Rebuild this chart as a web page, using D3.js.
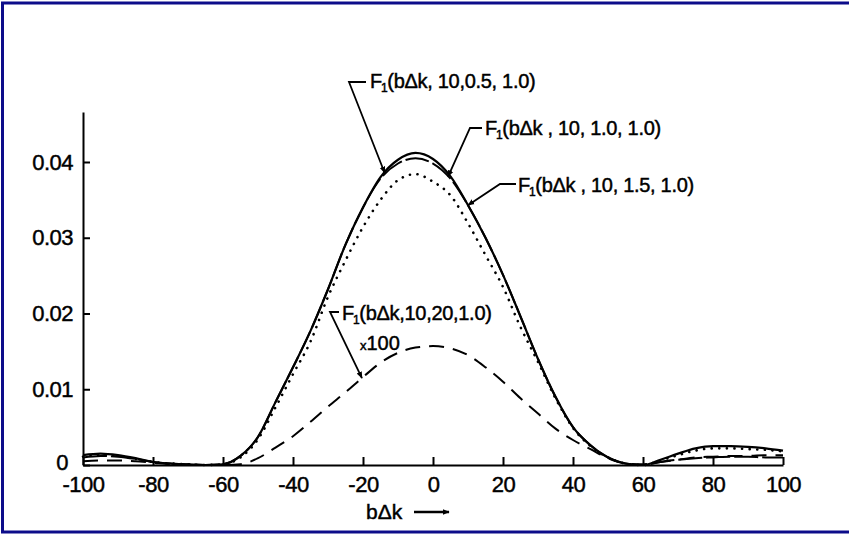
<!DOCTYPE html>
<html lang="en">
<head>
  <meta charset="UTF-8">
  <title>F1(bΔk) curves</title>
  <script src="https://d3js.org/d3.v7.min.js"></script>
  <style>
    body { margin: 0; background: #fff; }
    svg { display: block; font-family: "Liberation Sans", Arial, sans-serif; }
    svg text { stroke: #000; stroke-width: 0.45px; }
  </style>
</head>
<body>
  <svg id="chart" width="849" height="534"></svg>
  <script>
// b·Δk sample positions
const bdk = [-100, -95, -90, -85, -80, -75, -70, -65, -60, -55, -50, -45, -40, -35, -30, -25, -20, -15, -10, -5,
  0, 5, 10, 15, 20, 25, 30, 35, 40, 45, 50, 55, 60, 65, 70, 75, 80, 85, 90, 95, 100];

// F1(bΔk, 10, 0.5, 1.0)
const f05 = [0.0013, 0.0015, 0.0013, 0.0009, 0.0004, 0.0002, 0.0001, 0.0000, 0.0001, 0.0012, 0.0037, 0.0083, 0.0129, 0.0177, 0.0232, 0.0291, 0.0340, 0.0380, 0.0403, 0.0412,
  0.0404, 0.0381, 0.0343, 0.0300, 0.0251, 0.0196, 0.0140, 0.0090, 0.0050, 0.0026, 0.0010, 0.0002, 0.0000, 0.0007, 0.0015, 0.0022, 0.0025, 0.0025, 0.0024, 0.0022, 0.0019];

// F1(bΔk, 10, 1.0, 1.0)
const f10 = [0.0010, 0.0012, 0.0011, 0.0008, 0.0004, 0.0002, 0.0001, 0.0000, 0.0001, 0.0012, 0.0037, 0.0083, 0.0129, 0.0177, 0.0232, 0.0291, 0.0340, 0.0378, 0.0398, 0.0405,
  0.0398, 0.0378, 0.0343, 0.0300, 0.0251, 0.0196, 0.0140, 0.0090, 0.0050, 0.0026, 0.0010, 0.0002, 0.0000, 0.0004, 0.0007, 0.0009, 0.0010, 0.0011, 0.0011, 0.0010, 0.0010];

// F1(bΔk, 10, 1.5, 1.0)
const f15 = [0.0011, 0.0013, 0.0012, 0.0008, 0.0004, 0.0002, 0.0001, 0.0000, 0.0001, 0.0010, 0.0034, 0.0076, 0.0120, 0.0163, 0.0222, 0.0270, 0.0314, 0.0350, 0.0376, 0.0384,
  0.0374, 0.0356, 0.0319, 0.0277, 0.0235, 0.0182, 0.0136, 0.0088, 0.0049, 0.0025, 0.0010, 0.0002, 0.0000, 0.0006, 0.0013, 0.0019, 0.0022, 0.0022, 0.0021, 0.0020, 0.0018];

// F1(bΔk, 10, 20, 1.0) x100
const f20 = [0.0005, 0.0006, 0.0006, 0.0005, 0.0003, 0.0001, 0.0000, 0.0000, 0.0000, 0.0001, 0.0009, 0.0023, 0.0038, 0.0057, 0.0077, 0.0096, 0.0116, 0.0135, 0.0148, 0.0155,
  0.0157, 0.0154, 0.0145, 0.0129, 0.0110, 0.0088, 0.0068, 0.0048, 0.0033, 0.0021, 0.0009, 0.0002, 0.0001, 0.0004, 0.0007, 0.0010, 0.0011, 0.0012, 0.0012, 0.0013, 0.0013];

const xTicks = [-100, -80, -60, -40, -20, 0, 20, 40, 60, 80, 100];
const yTicks = [0, 0.01, 0.02, 0.03, 0.04];
const yLabelText = { 0: "0", 0.01: "0.01", 0.02: "0.02", 0.03: "0.03", 0.04: "0.04" };

const svg = d3.select("#chart");

// scanned-page frame
svg.append("path")
  .attr("d", "M849,3 H2.5 V532 H849")
  .attr("fill", "none")
  .attr("stroke", "#0c0c8a")
  .attr("stroke-width", 3);

const x = d3.scaleLinear().domain([-100, 100]).range([83, 783]);
const y = d3.scaleLinear().domain([0, 0.0466]).range([465, 112]);

svg.append("defs").append("marker")
  .attr("id", "tip")
  .attr("viewBox", "0 0 10 10")
  .attr("refX", 9).attr("refY", 5)
  .attr("markerWidth", 7).attr("markerHeight", 7)
  .attr("markerUnits", "userSpaceOnUse")
  .attr("orient", "auto")
  .append("path")
  .attr("d", "M0,1 L10,5 L0,9 Z")
  .attr("fill", "#000");

// axes
const yAxis = svg.append("g")
  .attr("transform", `translate(${x(-100)},0)`)
  .call(d3.axisLeft(y).tickValues(yTicks).tickSizeInner(-7).tickSizeOuter(0).tickPadding(10)
    .tickFormat(d => yLabelText[d]));

const xAxis = svg.append("g")
  .attr("transform", `translate(0,${y(0)})`)
  .call(d3.axisBottom(x).tickValues(xTicks).tickSizeInner(-8).tickSizeOuter(0).tickPadding(11)
    .tickFormat(d => String(d)));

[yAxis, xAxis].forEach(a => {
  a.selectAll("path, line").attr("stroke", "#000").attr("stroke-width", 2);
  a.selectAll("text").attr("fill", "#000").attr("font-size", 22)
    .attr("font-family", "'Liberation Sans', Arial, sans-serif")
    .attr("letter-spacing", "-0.5");
});
yAxis.selectAll(".tick").filter(d => d === 0).select("text").attr("x", -15).attr("dy", "0.2em");

// curves
const line = d3.line()
  .x((d, i) => x(bdk[i]))
  .y(d => y(d))
  .curve(d3.curveMonotoneX);

const series = [
  { values: f20, width: 2, dash: "15,9", cap: "butt" },
  { values: f15, width: 2.6, dash: "0.1,7.5", cap: "round" },
  { values: f10, width: 2, dash: "24,4", cap: "butt" },
  { values: f05, width: 2.2, dash: null, cap: "butt" }
];

series.forEach(s => {
  svg.append("path")
    .datum(s.values)
    .attr("d", line)
    .attr("fill", "none")
    .attr("stroke", "#000")
    .attr("stroke-width", s.width)
    .attr("stroke-linecap", s.cap)
    .attr("stroke-dasharray", s.dash);
});

// annotations: label text, label anchor, leader elbow, arrow target on curve
const notes = [
  { args: "(bΔk, 10,0.5, 1.0)", tx: 370, ty: 88, elbow: [[366, 82], [349, 82]], tip: [-13.8, f05] },
  { args: "(bΔk , 10, 1.0, 1.0)", tx: 485, ty: 135, elbow: [[482, 128], [470, 128]], tip: [4.3, f10] },
  { args: "(bΔk , 10, 1.5, 1.0)", tx: 518, ty: 192, elbow: [[516, 184], [500, 184]], tip: [10, f05] },
  { args: "(bΔk,10,20,1.0)", tx: 342, ty: 320, elbow: [[339, 312], [330, 312]], tip: [-20.3, f20] }
];

function valueAt(arr, bx) {
  const i = d3.bisectLeft(bdk, bx);
  if (i <= 0) return arr[0];
  const t = (bx - bdk[i - 1]) / (bdk[i] - bdk[i - 1]);
  return arr[i - 1] + t * (arr[i] - arr[i - 1]);
}

notes.forEach(n => {
  const t = svg.append("text")
    .attr("x", n.tx).attr("y", n.ty)
    .attr("font-size", 20)
    .attr("letter-spacing", "-0.3");
  t.append("tspan").text("F");
  t.append("tspan").attr("font-size", 12).attr("dy", 4).attr("dx", -1).text("1");
  t.append("tspan").attr("dy", -4).text(n.args);

  const tipPt = [x(n.tip[0]), y(valueAt(n.tip[1], n.tip[0]))];
  svg.append("path")
    .attr("d", d3.line()([...n.elbow, tipPt]))
    .attr("fill", "none")
    .attr("stroke", "#000")
    .attr("stroke-width", 1.8)
    .attr("marker-end", "url(#tip)");
});

const mult = svg.append("text").attr("x", 360).attr("y", 350).attr("font-size", 20);
mult.append("tspan").attr("font-size", 13).text("x");
mult.append("tspan").text("100");

// x-axis title with arrow
svg.append("text")
  .attr("x", 366).attr("y", 519)
  .attr("font-size", 21)
  .text("bΔk");
svg.append("path")
  .attr("d", d3.line()([[414, 512], [449, 512]]))
  .attr("stroke", "#000")
  .attr("stroke-width", 2.5)
  .attr("marker-end", "url(#tip)");
  </script>
</body>
</html>
